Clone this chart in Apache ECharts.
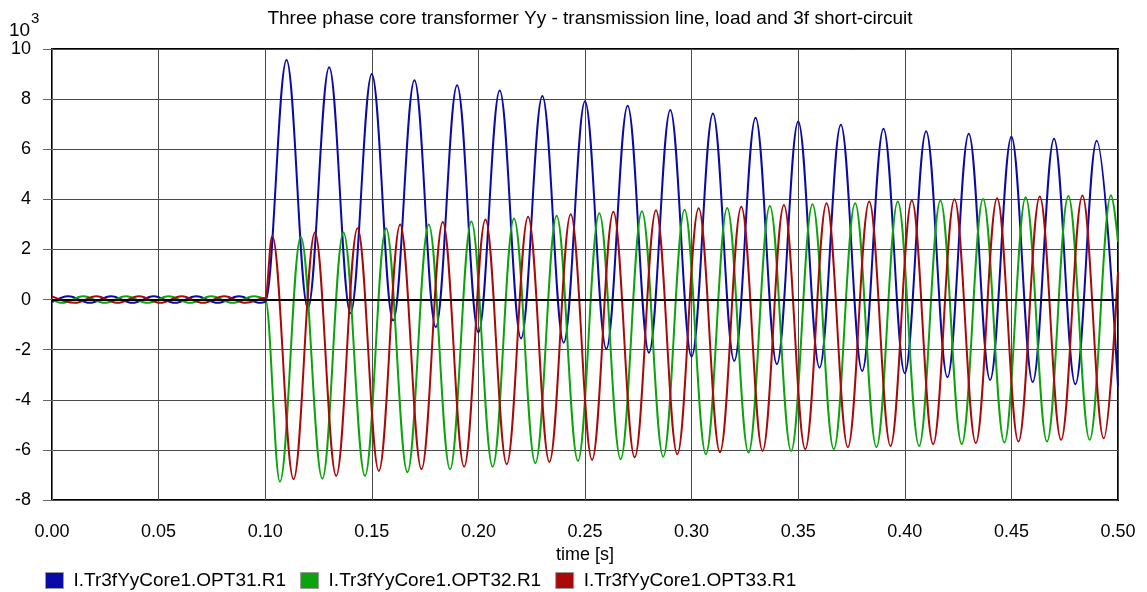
<!DOCTYPE html>
<html>
<head>
<meta charset="utf-8">
<title>Three phase core transformer Yy</title>
<script src="https://cdn.jsdelivr.net/npm/echarts@6/dist/echarts.min.js"></script>
<style>
  html, body { margin: 0; padding: 0; background: #fff; }
  #chart { width: 1147px; height: 592px; }
</style>
</head>
<body>
<div id="chart"></div>
<script>
// currents in 10^3 A, time in s
// each wave is stored by its peaks/troughs, the line is smoothed between them
const xTicks = [0, 0.05, 0.1, 0.15, 0.2, 0.25, 0.3, 0.35, 0.4, 0.45, 0.5]

// phase 1 (blue)
const blueTimes = [
  0, 0.0077, 0.0177, 0.0277, 0.0377, 0.0477, 0.0577, 0.0677, 0.0777, 0.0877, 0.0977, 0.1,
  0.110, 0.120, 0.130, 0.140, 0.150, 0.160, 0.170, 0.180, 0.190, 0.200,
  0.210, 0.220, 0.230, 0.240, 0.250, 0.260, 0.270, 0.280, 0.290, 0.300,
  0.310, 0.320, 0.330, 0.340, 0.350, 0.360, 0.370, 0.380, 0.390, 0.400,
  0.410, 0.420, 0.430, 0.440, 0.450, 0.460, 0.470, 0.480, 0.490, 0.500
]
const blueValues = [
  -0.10, 0.13, -0.13, 0.13, -0.13, 0.13, -0.13, 0.13, -0.13, 0.13, -0.13, -0.10,
  9.56, -0.35, 9.27, -0.55, 9.00, -0.84, 8.75, -1.10, 8.55, -1.31,
  8.34, -1.55, 8.12, -1.72, 7.91, -1.97, 7.74, -2.12, 7.57, -2.28,
  7.43, -2.45, 7.26, -2.58, 7.11, -2.72, 6.98, -2.85, 6.82, -2.94,
  6.72, -3.10, 6.62, -3.21, 6.50, -3.29, 6.42, -3.38, 6.34, -3.47
]

// phase 2 (green)
const greenTimes = [
  0, 0.0047, 0.0147, 0.0247, 0.0347, 0.0447, 0.0547, 0.0647, 0.0747, 0.0847, 0.0947, 0.1,
  0.1069, 0.1167, 0.1268, 0.1367, 0.1468, 0.1567, 0.1667, 0.1767, 0.1867, 0.1967,
  0.2067, 0.2167, 0.2267, 0.2367, 0.2467, 0.2567, 0.2667, 0.2767, 0.2867, 0.2967,
  0.3067, 0.3167, 0.3267, 0.3367, 0.3467, 0.3567, 0.3667, 0.3767, 0.3867, 0.3967,
  0.4067, 0.4167, 0.4267, 0.4367, 0.4467, 0.4567, 0.4667, 0.4767, 0.4867, 0.4967, 0.5
]
const greenValues = [
  -0.01, -0.13, 0.13, -0.13, 0.13, -0.13, 0.13, -0.13, 0.13, -0.13, 0.13, 0.05,
  -7.27, 2.50, -7.15, 2.68, -7.04, 2.85, -6.89, 3.00, -6.77, 3.12,
  -6.67, 3.24, -6.53, 3.34, -6.44, 3.44, -6.37, 3.52, -6.27, 3.58,
  -6.17, 3.65, -6.11, 3.73, -6.04, 3.80, -5.97, 3.84, -5.89, 3.91,
  -5.84, 3.95, -5.77, 4.01, -5.71, 4.08, -5.67, 4.13, -5.60, 4.16, 2.30
]

// phase 3 (red)
const redTimes = [
  0, 0.0108, 0.0208, 0.0308, 0.0408, 0.0508, 0.0608, 0.0708, 0.0808, 0.0908, 0.1,
  0.1033, 0.1133, 0.1233, 0.1333, 0.1433, 0.1533, 0.1633, 0.1733, 0.1833, 0.1933,
  0.2033, 0.2133, 0.2233, 0.2333, 0.2433, 0.2533, 0.2633, 0.2733, 0.2833, 0.2933,
  0.3033, 0.3133, 0.3233, 0.3333, 0.3433, 0.3533, 0.3633, 0.3733, 0.3833, 0.3933,
  0.4033, 0.4133, 0.4233, 0.4333, 0.4433, 0.4533, 0.4633, 0.4733, 0.4833, 0.4933, 0.5
]
const redValues = [
  0.13, -0.13, 0.13, -0.13, 0.13, -0.13, 0.13, -0.13, 0.13, -0.13, 0.05,
  2.54, -7.17, 2.68, -7.04, 2.85, -6.84, 3.00, -6.77, 3.10, -6.67,
  3.20, -6.57, 3.30, -6.48, 3.40, -6.40, 3.50, -6.29, 3.56, -6.17,
  3.64, -6.09, 3.70, -6.04, 3.77, -5.97, 3.84, -5.89, 3.91, -5.84,
  3.95, -5.77, 4.00, -5.73, 4.04, -5.67, 4.11, -5.60, 4.15, -5.54, 1.10
]

const names = ['I.Tr3fYyCore1.OPT31.R1', 'I.Tr3fYyCore1.OPT32.R1', 'I.Tr3fYyCore1.OPT33.R1']
const colors = ['#0a0aa6', '#0ca30c', '#a80a0a']

const font = '"Liberation Sans", Arial, sans-serif'
const pairs = (ts, vs) => ts.map((t, i) => [t, vs[i]])

const makeSeries = (idx, ts, vs) => ({
  name: names[idx],
  type: 'line',
  data: pairs(ts, vs),
  showSymbol: false,
  smooth: 0.37,
  smoothMonotone: 'x',
  lineStyle: { color: colors[idx], width: 2 },
  itemStyle: { color: colors[idx] },
  emphasis: { disabled: true }
})

const chart = echarts.init(document.getElementById('chart'))

const blue = makeSeries(0, blueTimes, blueValues)
// thick zero line under the curves
blue.markLine = {
  silent: true,
  symbol: 'none',
  label: { show: false },
  lineStyle: { color: '#000', width: 2, type: 'solid' },
  data: [{ yAxis: 0 }]
}

const option = {
  animation: false,
  backgroundColor: '#fff',
  title: {
    text: 'Three phase core transformer Yy - transmission line, load and 3f short-circuit',
    left: 585,
    textAlign: 'center',
    top: 4,
    textStyle: { fontFamily: font, fontSize: 19, fontWeight: 'normal', color: '#000' }
  },
  graphic: [
    { type: 'text', left: 9, top: 21, style: { text: '10', font: '19px ' + font, fill: '#000' } },
    { type: 'text', left: 31, top: 11, style: { text: '3', font: '15px ' + font, fill: '#000' } }
  ],
  legend: {
    data: names,
    left: 40,
    top: 566,
    icon: 'rect',
    itemWidth: 18,
    itemHeight: 16,
    itemGap: 14,
    itemStyle: { borderColor: '#999', borderWidth: 1 },
    textStyle: { fontFamily: font, fontSize: 19, color: '#000', padding: [0, 0, 0, 5] }
  },
  grid: {
    left: 52,
    right: 29,
    top: 49,
    bottom: 92,
    show: true,
    borderColor: '#000',
    borderWidth: 2
  },
  xAxis: {
    type: 'value',
    min: 0,
    max: 0.5,
    interval: 0.05,
    offset: 11,
    name: 'time [s]',
    nameLocation: 'middle',
    nameGap: 31,
    nameTextStyle: { fontFamily: font, fontSize: 18, color: '#000' },
    axisLine: { show: true, lineStyle: { color: '#666', width: 1 } },
    axisTick: { show: true, length: 9, lineStyle: { color: '#666' } },
    axisLabel: {
      margin: 12,
      fontFamily: font,
      fontSize: 18,
      color: '#000',
      formatter: v => xTicks.includes(Math.round(v * 100) / 100) ? v.toFixed(2) : ''
    },
    splitLine: { show: true, lineStyle: { color: '#4a4a4a', width: 1 } }
  },
  yAxis: {
    type: 'value',
    min: -8,
    max: 10,
    interval: 2,
    offset: 9,
    axisLine: { show: true, lineStyle: { color: '#666', width: 1 } },
    axisTick: { show: true, length: 9, lineStyle: { color: '#666' } },
    axisLabel: { margin: 12, fontFamily: font, fontSize: 18, color: '#000' },
    splitLine: { show: true, lineStyle: { color: '#4a4a4a', width: 1 } }
  },
  series: [
    blue,
    makeSeries(1, greenTimes, greenValues),
    makeSeries(2, redTimes, redValues)
  ]
}

chart.setOption(option)
window.addEventListener('resize', () => chart.resize())
</script>
</body>
</html>
